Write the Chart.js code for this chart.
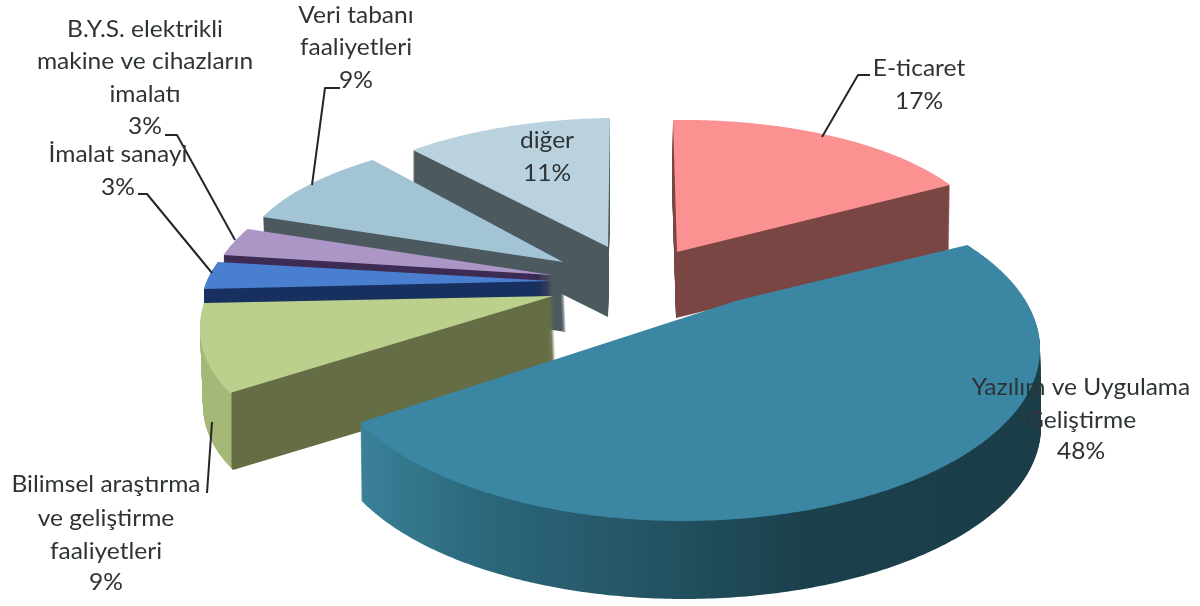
<!DOCTYPE html>
<html lang="tr">
<head>
<meta charset="utf-8">
<title>Pie</title>
<script src="https://cdn.jsdelivr.net/npm/chart.js@4"></script>
<style>
html,body{margin:0;padding:0;background:#fff}
canvas{display:block;filter:blur(0.5px)}
</style>
</head>
<body>
<canvas id="c" width="1200" height="606"></canvas>
<script>
// ---- data ----
const categories = ["E-ticaret","Yazılım ve Uygulama Geliştirme","Bilimsel araştırma ve geliştirme faaliyetleri","İmalat sanayi","B.Y.S. elektrikli makine ve cihazların imalatı","Veri tabanı faaliyetleri","diğer"];
const shares = [17,48,9,3,3,9,11];

// ---- styles ----
const topColors = ["#fb9191","#3b87a3","#bcd08e","#4a7fcf","#ab96c6","#a2c4d4","#b9d2de"];
const wallStops = [
  [[600,"#7a4644"],[1000,"#7a4644"]],
  [[362,"#3a8198"],[480,"#2b687c"],[640,"#245565"],[800,"#1b414d"],[1040,"#1a3d47"]],
  [[200,"#a6b877"],[231,"#a6b877"],[232,"#656d45"],[560,"#656d45"]],
  [[200,"#17305f"],[560,"#17305f"]],
  [[200,"#3c2c54"],[560,"#3c2c54"]],
  [[200,"#4c5a60"],[600,"#4c5a60"]],
  [[400,"#4c5a60"],[620,"#4c5a60"]]
];
// Perspective pose of each exploded slice: shift from the pie centre, 2x2 plane matrix, perspective pull, turn
const poseShift  = [[77,-51],[83,46],[-47,-7],[-48,-22],[-48,-28],[-37,-41],[8,-56]];
const poseMatrix = [
  [313.8,4,-3.9,132],
  [357,0,0,172],
  [345,-74.7,3.7,170],
  [344.8,-63.5,1,143.6],
  [338,-55,2.2,142],
  [321.9,-19.4,5.9,127.5],
  [308.5,-2,-3.8,129]
];
const posePull = [[0,0],[0.154,-0.284],[0,0],[0,0],[0,0],[0,0],[0,0]];
const poseTurn = [0,0.014,0,0,0,0,0];
const wallVector = [[-1,66],[1,78],[3,77],[0,40],[0,30],[3,70],[0,70]];
const drawOrder = [6,0,5,4,3,2,1];

// ---- text ----
const labelLines = [
  {lines:["E-ticaret","17%"],x:919,y:[69,102]},
  {lines:["Yazılım ve Uygulama","Geliştirme","48%"],x:1081,y:[388,421,452]},
  {lines:["Bilimsel araştırma","ve geliştirme","faaliyetleri","9%"],x:106,y:[485,519,552,583]},
  {lines:["İmalat sanayi","3%"],x:118,y:[155,188]},
  {lines:["B.Y.S. elektrikli","makine ve cihazların","imalatı","3%"],x:145,y:[30,62,95,127]},
  {lines:["Veri tabanı","faaliyetleri","9%"],x:356,y:[16,48,81]},
  {lines:["diğer","11%"],x:547,y:[141,174]}
];
const leaders = [
  [[870,75],[858,75],[822,137]],
  [[340,88],[325,88],[312,185]],
  [[165,135],[177,135],[235,240]],
  [[138,194],[147,194],[212,273]],
  [[207,493],[212,422]]
];

function boost(qx,qy,ax,ay){
  const a2 = ax*ax+ay*ay;
  if(a2===0) return [qx,qy];
  const g = 1/Math.sqrt(1-a2), d = ax*qx+ay*qy;
  const c = (g-1)*d/a2 + g, t = g*(1+d);
  return [(qx+c*ax)/t,(qy+c*ay)/t];
}

// A context stand-in: the library's arc path goes through it and lands in perspective.
function projected(ctx, arc, i, ox, oy){
  const cx = arc.x, cy = arc.y, R = arc.outerRadius;
  const [sx,sy] = poseShift[i], [a,b,c,d] = poseMatrix[i], [ax,ay] = posePull[i];
  const cs = Math.cos(poseTurn[i]), sn = Math.sin(poseTurn[i]);
  let tx = 0, ty = 0; const stack = [];
  const map = (x,y)=>{
    const px = (x+tx-cx)/R, py = (y+ty-cy)/R;
    const [u,v] = boost(cs*px-sn*py,sn*px+cs*py,ax,ay);
    return [cx+sx+a*u+b*v+ox, cy+sy+c*u+d*v+oy];
  };
  const over = {
    save(){stack.push([tx,ty]);ctx.save();},
    restore(){[tx,ty]=stack.pop();ctx.restore();},
    translate(x,y){tx+=x;ty+=y;},
    moveTo(x,y){ctx.moveTo(...map(x,y));},
    lineTo(x,y){ctx.lineTo(...map(x,y));},
    arc(x,y,r,s,e,ccw){
      let sweep = e-s;
      if(ccw && sweep>0) sweep -= 2*Math.PI;
      if(!ccw && sweep<0) sweep += 2*Math.PI;
      const n = Math.max(1,Math.ceil(Math.abs(sweep)/0.01));
      for(let k=0;k<=n;k++){
        const t = s+sweep*k/n;
        ctx.lineTo(...map(x+r*Math.cos(t),y+r*Math.sin(t)));
      }
    }
  };
  return new Proxy({}, {
    get(_,p){
      if(p in over) return over[p];
      const v = ctx[p];
      return typeof v==="function" ? v.bind(ctx) : v;
    },
    set(_,p,v){ctx[p]=v;return true;}
  });
}

const pie3d = {
  id:"pie3d",
  beforeDatasetsDraw(chart){
    const ctx = chart.ctx, arcs = chart.getDatasetMeta(0).data;
    drawOrder.forEach(i=>{
      const arc = arcs[i], base = arc.options;
      const stops = wallStops[i];
      const grad = ctx.createLinearGradient(stops[0][0],0,stops[stops.length-1][0],0);
      const span = stops[stops.length-1][0]-stops[0][0];
      stops.forEach(([x,col])=>grad.addColorStop((x-stops[0][0])/span,col));
      arc.options = Object.assign({},base,{backgroundColor:grad});
      const [wx,wy] = wallVector[i];
      for(let k=wy;k>=1;k--) arc.draw(projected(ctx,arc,i,wx*k/wy,k));
      arc.options = base;
      arc.draw(projected(ctx,arc,i,0,0));
    });
    return false;
  },
  afterDraw(chart){
    const ctx = chart.ctx;
    ctx.save();
    ctx.strokeStyle="#262626"; ctx.lineWidth=2; ctx.lineJoin="round";
    leaders.forEach(l=>{
      ctx.beginPath();
      l.forEach(([x,y],k)=>k?ctx.lineTo(x,y):ctx.moveTo(x,y));
      ctx.stroke();
    });
    ctx.fillStyle="#2e3336"; ctx.font='22.5px Lato, "Open Sans", sans-serif';
    ctx.textAlign="center"; ctx.textBaseline="middle";
    labelLines.forEach(t=>t.lines.forEach((s,k)=>{
      ctx.save();
      ctx.translate(t.x,t.y[k]);
      ctx.scale(1.09,1);
      ctx.fillText(s,0,0);
      ctx.restore();
    }));
    ctx.restore();
  }
};

new Chart(document.getElementById("c"),{
  type:"pie",
  data:{labels:categories,datasets:[{data:shares,backgroundColor:topColors,borderWidth:0}]},
  options:{
    responsive:false,animation:false,events:[],
    layout:{padding:0},
    plugins:{legend:{display:false},tooltip:{enabled:false},title:{display:false}}
  },
  plugins:[pie3d]
});
</script>
</body>
</html>
